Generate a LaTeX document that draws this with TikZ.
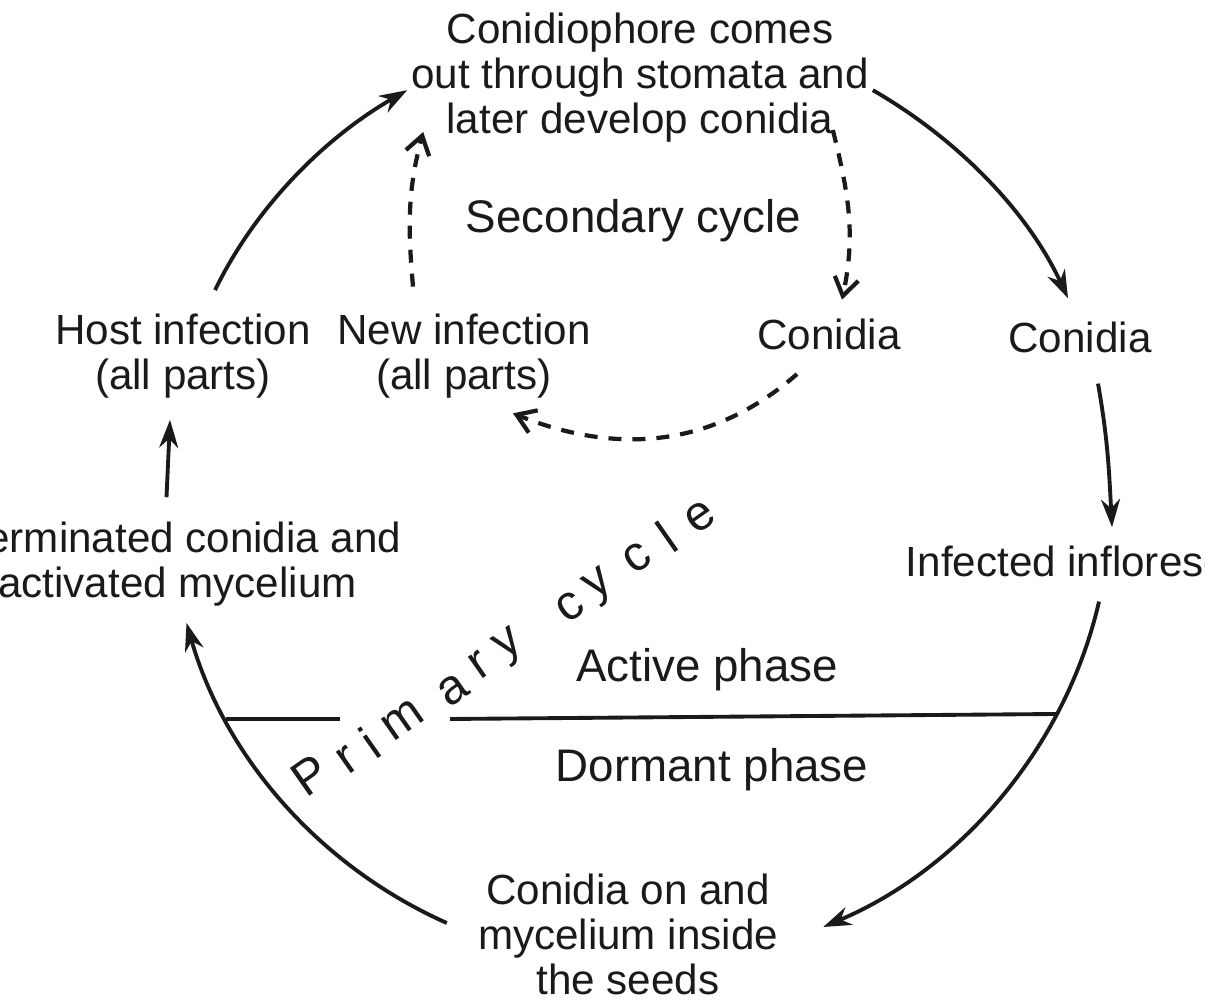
\documentclass[tikz,border=0pt]{standalone}
\usepackage{fontspec}
\setmainfont{Liberation Sans}
\usetikzlibrary{arrows.meta,positioning}
\definecolor{cycink}{HTML}{1A1A1A}

\begin{document}
\begin{tikzpicture}[
    stage/.style={align=center, inner sep=1pt, text=cycink,
                  font=\fontsize{12}{12.8}\selectfont},
    phase/.style={inner sep=1pt, text=cycink, font=\fontsize{13}{14}\selectfont},
    pletter/.style={inner sep=0pt, rotate=35, text=cycink,
                    font=\fontsize{14}{14}\selectfont},
    cycarrow/.style={cycink, line width=1.1pt,
                     -{Stealth[length=2.8mm,width=1.9mm]}},
    secarrow/.style={cycink, line width=1.2pt, dash pattern=on 1.3mm off 1.1mm,
                     -{Straight Barb[length=1.8mm,width=2.4mm]}}
  ]

  % ---- Page frame ----
  \useasboundingbox (0,0) rectangle (12.05,10);
  \clip (0,0) rectangle (12.05,10);
  \fill[white] (0,0) rectangle (12.05,10);

  % ============ Stages of the cycle ============

  \node[stage] (top) at (6.40,9.228)
    {Conidiophore comes\\out through stomata and\\later develop conidia};
  \node[stage] (host) at (1.83,6.435) {Host infection\\(all parts)};
  \node[stage] (newinf) at (4.64,6.435) {New infection\\(all parts)};
  \node[stage, anchor=base] (conin) at (8.29,6.50) {Conidia};
  \node[stage, anchor=base] (conout) at (10.80,6.47) {Conidia};
  \node[stage, anchor=base] (infl) at (11.11,4.23) {Infected inflorescence};
  \node[stage] (germ) at (1.775,4.354)
    {Germinated conidia and\\activated mycelium};
  \node[stage] (seeds) at (6.28,0.655)
    {Conidia on and\\mycelium inside\\the seeds};

  % ============ Cycle labels ============

  \node[phase, anchor=base] (sec) at (6.335,7.67) {Secondary cycle};
  \node[phase, anchor=base] (active) at (7.07,3.18) {Active phase};
  \node[phase, anchor=base] (dormant) at (7.12,2.18) {Dormant phase};

  % Primary cycle, letter by letter
  \foreach \lt/\lx/\ly [count=\i] in {P/3.10/2.25, r/3.48/2.40, i/3.70/2.57,
      m/4.03/2.80, a/4.53/3.10, r/4.80/3.35, y/5.10/3.53, c/5.70/3.93,
      y/6.00/4.13, c/6.37/4.42, l/6.67/4.63, e/7.00/4.83}
    \node[pletter] (prim\i) at (\lx,\ly) {\lt};

  % Active / dormant divider
  \coordinate (phL) at (2.26,2.81);
  \coordinate (gapL) at (3.40,2.81);
  \coordinate (gapR) at (4.50,2.81);
  \coordinate (phR) at (10.56,2.86);
  \draw[cycink, line width=1.1pt] (phL) -- (gapL);
  \draw[cycink, line width=1.1pt] (gapR) -- (phR);

  % ============ Primary cycle arrows ============

  \draw[cycarrow] ([shift={(0.32,0.20)}]host.north)
    to[out=64, in=210, looseness=0.87] ([yshift=-1.3mm]top.west);
  \draw[cycarrow] ([yshift=-1.3mm]top.east)
    to[out=-30, in=115, looseness=0.87] ([shift={(-0.12,0.20)}]conout.north);
  \draw[cycarrow] ([shift={(0.18,-0.26)}]conout.south)
    to[out=-80, in=93] ([shift={(0.01,0.15)}]infl.north);
  \draw[cycarrow] ([shift={(-0.12,-0.20)}]infl.south)
    to[out=257, in=23, looseness=0.9] ([shift={(0.41,0.075)}]seeds.east);
  \draw[cycarrow] ([shift={(-0.27,0.115)}]seeds.west)
    to[out=156, in=286, looseness=0.9] ([shift={(0.09,-0.12)}]germ.south);
  \draw[cycarrow] ([shift={(-0.11,0.21)}]germ.north)
    -- ([shift={(-0.13,-0.17)}]host.south);

  % ============ Secondary cycle arrows ============

  \draw[secarrow] ([shift={(-0.51,0.235)}]newinf.north)
    to[out=95, in=255] ([shift={(0.16,0.14)}]top.south west);
  \draw[secarrow] ([shift={(-0.40,0.16)}]top.south east)
    to[out=-76, in=78] ([shift={(0.13,0.155)}]conin.north);
  \draw[secarrow] ([shift={(-0.32,-0.195)}]conin.south)
    to[out=221, in=-22] ([shift={(0.49,-0.105)}]newinf.south);

\end{tikzpicture}
\end{document}
